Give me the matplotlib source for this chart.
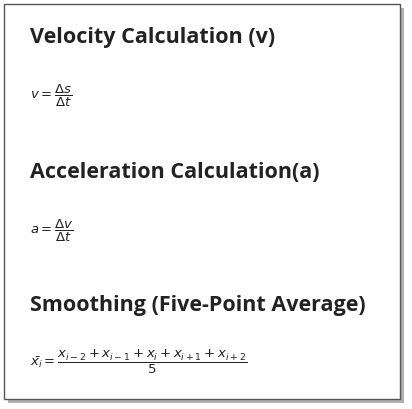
import matplotlib.pyplot as plt
from matplotlib.patches import Rectangle

W, H = 412, 409

headings = ["Velocity Calculation (v)", "Acceleration Calculation(a)", "Smoothing (Five-Point Average)"]
heading_y = [38, 172, 305]
formulas = [r"$v = \dfrac{\Delta s}{\Delta t}$",
            r"$a = \dfrac{\Delta v}{\Delta t}$",
            r"$\bar{x_i} = \dfrac{x_{i-2} + x_{i-1} + x_i + x_{i+1} + x_{i+2}}{5}$"]
formula_y = [96, 231, 362]

plt.rcParams["mathtext.fontset"] = "dejavusans"

fig = plt.figure(figsize=(W / 100, H / 100), dpi=100)
ax = fig.add_axes([0, 0, 1, 1])
ax.set_xlim(0, W)
ax.set_ylim(H, 0)
ax.axis("off")

# shadow and frame
ax.add_patch(Rectangle((8, 8), 396, 395, facecolor="#b0b0b0", edgecolor="none"))
ax.add_patch(Rectangle((4, 4), 396, 395, facecolor="white", edgecolor="#555555", lw=1))

for t, y in zip(headings, heading_y):
    ax.text(30, y, t, fontsize=15.5, fontweight="bold", family="Open Sans",
            color="#222222", va="center", ha="left")
for f, y in zip(formulas, formula_y):
    ax.text(30, y, f, fontsize=9.5, color="#222222", va="center", ha="left")

fig.savefig("out.png", dpi=100)
